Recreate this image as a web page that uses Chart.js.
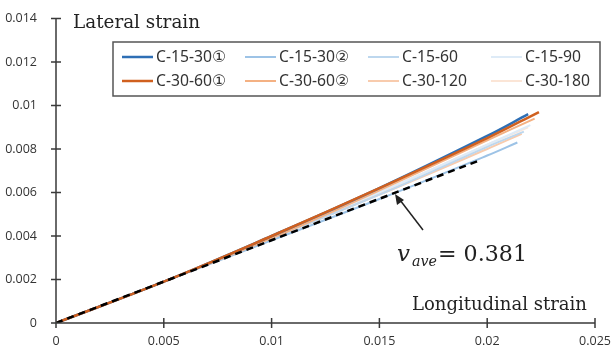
<!DOCTYPE html>
<html>
<head>
<meta charset="utf-8">
<script src="https://cdn.jsdelivr.net/npm/chart.js@4"></script>
<style>
  body { margin: 0; background: #fff; }
  #wrap { width: 615px; height: 347px; }
</style>
</head>
<body>
<div id="wrap"><canvas id="strain-chart" width="615" height="347"></canvas></div>
<script>
// series labels and colours
const seriesLabels = ["C-15-30①", "C-15-30②", "C-15-60", "C-15-90",
                      "C-30-60①", "C-30-60②", "C-30-120", "C-30-180"];
const seriesColors = ["#2E6FB5", "#9DC3E6", "#BDD7EE", "#DEEBF7",
                      "#D0601F", "#F4B183", "#F8CBAD", "#FBE5D6"];

// longitudinal strain (x) and lateral strain (y)
const long_15_30_1 = [0, 0.005, 0.01, 0.015, 0.02, 0.0219];
const lat_15_30_1  = [0, 0.0019, 0.0040, 0.0062, 0.0086, 0.0096];
const long_15_30_2 = [0, 0.005, 0.01, 0.015, 0.02, 0.0214];
const lat_15_30_2  = [0, 0.0019, 0.0038, 0.0057, 0.0077, 0.0083];
const long_15_60   = [0, 0.005, 0.01, 0.015, 0.02, 0.0217];
const lat_15_60    = [0, 0.0019, 0.0039, 0.0059, 0.0081, 0.0088];
const long_15_90   = [0, 0.005, 0.01, 0.015, 0.02, 0.0220];
const lat_15_90    = [0, 0.0019, 0.0039, 0.0060, 0.0082, 0.0091];
const long_30_60_1 = [0, 0.005, 0.01, 0.015, 0.02, 0.0224];
const lat_30_60_1  = [0, 0.0019, 0.0040, 0.0062, 0.0085, 0.0097];
const long_30_60_2 = [0, 0.005, 0.01, 0.015, 0.02, 0.0222];
const lat_30_60_2  = [0, 0.0019, 0.0039, 0.0061, 0.0084, 0.0094];
const long_30_120  = [0, 0.005, 0.01, 0.015, 0.02, 0.0216];
const lat_30_120   = [0, 0.0019, 0.0039, 0.0059, 0.0080, 0.0087];
const long_30_180  = [0, 0.005, 0.01, 0.015, 0.02, 0.0219];
const lat_30_180   = [0, 0.0019, 0.0039, 0.0060, 0.0082, 0.0090];

// average Poisson ratio line
const aveLong = [0, 0.0197];
const aveLat  = [0, 0.0075];
const aveText = "= 0.381";

const xTicks = [0, 0.005, 0.01, 0.015, 0.02, 0.025];
const yTicks = [0, 0.002, 0.004, 0.006, 0.008, 0.01, 0.012, 0.014];

const longs = [long_15_30_1, long_15_30_2, long_15_60, long_15_90,
               long_30_60_1, long_30_60_2, long_30_120, long_30_180];
const lats  = [lat_15_30_1, lat_15_30_2, lat_15_60, lat_15_90,
               lat_30_60_1, lat_30_60_2, lat_30_120, lat_30_180];
const widths = [2.5, 2, 2, 2, 2.5, 2, 2, 2];
const orders = [2, 5, 6, 8, 1, 4, 7, 9];

function pts(xs, ys) {
  const out = [];
  for (let i = 0; i < xs.length; i++) out.push({ x: xs[i], y: ys[i] });
  return out;
}

const datasets = [];
for (let i = 0; i < seriesLabels.length; i++) {
  datasets.push({
    label: seriesLabels[i],
    data: pts(longs[i], lats[i]),
    borderColor: seriesColors[i],
    backgroundColor: seriesColors[i],
    borderWidth: widths[i],
    pointRadius: 0,
    tension: 0.4,
    order: orders[i],
    fill: false
  });
}
datasets.push({
  label: "ave",
  data: pts(aveLong, aveLat),
  borderColor: "#000",
  borderWidth: 2.5,
  borderDash: [7, 5],
  pointRadius: 0,
  order: 0,
  fill: false
});

// pick a font size so text spans the width seen in the picture
function fitFont(ctx, text, style, family, target) {
  ctx.font = style + " 20px " + family;
  const w = ctx.measureText(text).width;
  const size = 20 * target / w;
  return style + " " + size.toFixed(2) + "px " + family;
}

const serif = "'DejaVu Serif', serif";
const sans = "'Noto Sans', 'DejaVu Sans', sans-serif";

// axes crossing ticks, legend box and annotations
const extras = {
  id: 'extras',
  afterDraw(chart) {
    const ctx = chart.ctx;
    const xs = chart.scales.x, ys = chart.scales.y;
    const x0 = xs.getPixelForValue(0), y0 = ys.getPixelForValue(0);
    ctx.save();
    ctx.strokeStyle = "#3a3a3a";
    ctx.lineWidth = 1.5;
    ctx.beginPath();
    ctx.moveTo(x0, ys.getPixelForValue(0.014));
    ctx.lineTo(x0, y0);
    ctx.lineTo(xs.getPixelForValue(0.025), y0);
    for (const t of yTicks) {
      const p = ys.getPixelForValue(t);
      ctx.moveTo(x0 - 5, p); ctx.lineTo(x0 + 5, p);
    }
    for (const t of xTicks) {
      const p = xs.getPixelForValue(t);
      ctx.moveTo(p, y0 - 5); ctx.lineTo(p, y0 + 5);
    }
    ctx.stroke();

    // legend
    ctx.strokeStyle = "#555";
    ctx.lineWidth = 1.5;
    ctx.strokeRect(113, 42, 487, 54);
    ctx.font = fitFont(ctx, "C-15-60", "", sans, 56);
    ctx.textBaseline = "middle";
    ctx.fillStyle = "#333";
    for (let i = 0; i < seriesLabels.length; i++) {
      const col = i % 4, row = Math.floor(i / 4);
      const lx = 122 + col * 123, ly = 57 + row * 24;
      ctx.strokeStyle = seriesColors[i];
      ctx.lineWidth = widths[i];
      ctx.beginPath(); ctx.moveTo(lx, ly); ctx.lineTo(lx + 31, ly); ctx.stroke();
      ctx.fillText(seriesLabels[i], lx + 34, ly + 1);
    }

    // titles
    ctx.fillStyle = "#222";
    ctx.textBaseline = "alphabetic";
    ctx.font = fitFont(ctx, "Lateral strain", "", serif, 127);
    ctx.fillText("Lateral strain", 73, 28);
    ctx.font = fitFont(ctx, "Longitudinal strain", "", serif, 175);
    ctx.fillText("Longitudinal strain", 412, 310);

    // arrow
    ctx.strokeStyle = "#222";
    ctx.lineWidth = 1.5;
    ctx.beginPath(); ctx.moveTo(423, 230); ctx.lineTo(400, 200); ctx.stroke();
    ctx.beginPath();
    ctx.moveTo(395, 194); ctx.lineTo(404, 200); ctx.lineTo(397, 205); ctx.closePath();
    ctx.fillStyle = "#222"; ctx.fill();

    // v_ave label
    ctx.font = fitFont(ctx, "v", "italic", serif, 13);
    ctx.fillText("v", 397, 261);
    ctx.font = fitFont(ctx, "ave", "italic", serif, 25);
    ctx.fillText("ave", 412, 266);
    ctx.font = fitFont(ctx, aveText, "", serif, 89);
    ctx.fillText(aveText, 438, 261);
    ctx.restore();
  }
};

const tickFont = { size: 12.5, family: "'Open Sans', sans-serif" };

new Chart(document.getElementById("strain-chart"), {
  type: 'line',
  data: { datasets: datasets },
  options: {
    responsive: false,
    animation: false,
    layout: { padding: { left: 0, right: 20, top: 17, bottom: 0 } },
    plugins: { legend: { display: false }, tooltip: { enabled: false } },
    scales: {
      x: {
        type: 'linear', min: 0, max: 0.025,
        afterFit(s) { s.height = 24; },
        afterBuildTicks(s) { s.ticks = xTicks.map(v => ({ value: v })); },
        grid: { display: false }, border: { display: false },
        ticks: { color: "#333", font: tickFont, padding: 3, maxRotation: 0,
                 callback: v => String(+v.toFixed(3)) }
      },
      y: {
        min: 0, max: 0.014,
        afterFit(s) { s.width = 56; },
        afterBuildTicks(s) { s.ticks = yTicks.map(v => ({ value: v })); },
        grid: { display: false }, border: { display: false },
        ticks: { color: "#333", font: tickFont, padding: 11,
                 callback: v => String(+v.toFixed(3)) }
      }
    }
  },
  plugins: [extras]
});
</script>
</body>
</html>
